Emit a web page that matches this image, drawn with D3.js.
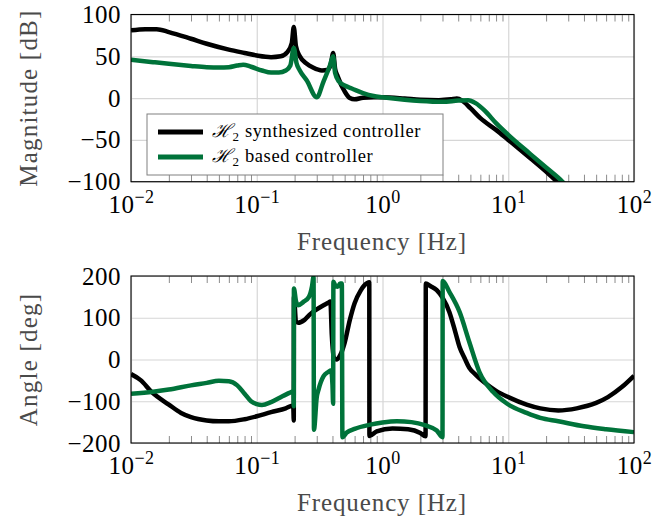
<!DOCTYPE html>
<html>
<head>
<meta charset="utf-8">
<script src="https://cdn.jsdelivr.net/npm/d3@7"></script>
<style>
  body { margin: 0; background: #fff; }
  svg { display: block; }
</style>
</head>
<body>
<svg width="666" height="521"></svg>
<script>
// [frequency Hz, value]
var magSynth = [
  [0.01, 81], [0.013, 82.5], [0.016, 82.5], [0.02, 79], [0.03, 71], [0.04, 65], [0.06, 58],
  [0.08, 54], [0.1, 51], [0.13, 49], [0.155, 50], [0.175, 55], [0.19, 66], [0.197, 85],
  [0.205, 62], [0.22, 50], [0.25, 41], [0.28, 36.5], [0.33, 33], [0.37, 34], [0.39, 42],
  [0.405, 54], [0.42, 35], [0.44, 26], [0.5, 8], [0.55, 0], [0.6, -1.5], [0.7, 0.5],
  [0.85, 1], [1, 1], [1.5, -0.5], [2, -2], [2.8, -2.5], [3.5, -1.5], [3.9, -0.5], [4.3, -3],
  [5, -12], [6, -24], [8, -38], [10, -50], [15, -72], [20, -88], [24.4, -100], [27, -107]
];
var magBased = [
  [0.01, 46], [0.015, 43], [0.02, 41], [0.03, 38.5], [0.04, 37], [0.05, 36.5], [0.06, 37],
  [0.07, 39], [0.078, 40], [0.09, 37.5], [0.11, 33], [0.13, 30.5], [0.15, 30.5], [0.17, 33],
  [0.185, 39], [0.197, 60], [0.207, 42], [0.22, 33], [0.25, 21], [0.3, 1], [0.34, 20],
  [0.38, 38], [0.405, 50], [0.42, 30], [0.45, 20], [0.5, 15], [0.57, 11.5], [0.7, 6],
  [0.85, 2.5], [1, 1], [1.5, -2], [2, -3.5], [3, -4.5], [4, -3], [4.8, -2.5], [5.5, -6],
  [6.5, -15], [8, -30], [10, -44], [15, -67], [20, -83], [27, -100], [29, -105]
];
var phSynth = [
  [0.01, -35], [0.012, -50], [0.0145, -77], [0.02, -108], [0.025, -128], [0.03, -138],
  [0.04, -146], [0.05, -148], [0.06, -148], [0.08, -143], [0.1, -136], [0.13, -126],
  [0.17, -117], [0.195, -110], [0.197, -146], [0.1975, 150], [0.205, 92], [0.213, 88],
  [0.24, 95], [0.265, 108], [0.3, 120], [0.34, 130], [0.37, 136], [0.385, 139], [0.395, 60],
  [0.41, 5], [0.43, 0], [0.46, 10], [0.5, 40], [0.55, 95], [0.6, 135], [0.67, 165],
  [0.72, 178], [0.785, 185], [0.787, -183], [0.9, -172], [1.2, -165], [1.6, -167],
  [2, -176], [2.2, -184], [2.21, 182], [2.4, 176], [2.7, 166], [3, 148], [3.4, 114],
  [3.8, 65], [4.1, 30], [4.5, 3], [4.9, -20], [5.5, -36], [6.4, -54], [8, -75], [10, -90],
  [14, -108], [18, -117], [25, -122], [35, -117], [50, -104], [62, -90], [80, -66], [100, -39]
];
var phBased = [
  [0.01, -82], [0.015, -77], [0.02, -72], [0.03, -62], [0.04, -56], [0.05, -51], [0.06, -52],
  [0.07, -62], [0.08, -82], [0.09, -100], [0.1, -107], [0.11, -109], [0.13, -102],
  [0.16, -88], [0.19, -77], [0.196, -75], [0.197, -112], [0.1975, 170], [0.205, 140],
  [0.213, 130], [0.235, 138], [0.26, 150], [0.275, 175], [0.283, 198], [0.285, -168],
  [0.3, -90], [0.31, -72], [0.34, -40], [0.37, -30], [0.39, -26], [0.4, -60], [0.405, -106],
  [0.407, 186], [0.42, 178], [0.44, 174], [0.46, 182], [0.475, 182], [0.48, -186],
  [0.52, -175], [0.6, -166], [0.8, -156], [1, -151], [1.3, -148], [1.7, -150], [2.2, -158],
  [2.7, -170], [3, -186], [3.01, 188], [3.4, 162], [4.1, 114], [4.9, 42], [5.9, -30],
  [7.6, -78], [9.8, -106], [14, -128], [18, -140], [25, -148], [40, -160], [60, -167], [100, -174]
];

var seriesNames = ["\u210B", " synthesized controller", " based controller"];
var seriesColors = ["#000000", "#00733a"];
var decades = [0.01, 0.1, 1, 10, 100];
var decadeExp = ["\u22122", "\u22121", "0", "1", "2"];
var magTicks = [100, 50, 0, -50, -100];
var phTicks = [200, 100, 0, -100, -200];

var font = "'Liberation Serif', 'DejaVu Serif', serif";
var svg = d3.select("svg");

var x = d3.scaleLog().domain([0.01, 100]).range([131, 634]);
var minor = [];
decades.slice(0, 4).forEach(function (d) {
  for (var k = 2; k <= 9; k++) minor.push(d * k);
});

function panel(top, bottom, yDomain, yTicks, yLabel, series, id) {
  var y = d3.scaleLinear().domain(yDomain).range([bottom, top]);
  var h = bottom - top;
  var g = svg.append("g");

  // grid
  g.append("g")
    .attr("transform", "translate(0," + bottom + ")")
    .call(d3.axisBottom(x).tickValues(decades).tickSize(-h).tickFormat(""))
    .call(function (s) { s.select(".domain").remove(); })
    .selectAll("line").attr("stroke", "#d6d6d6").attr("stroke-width", 1.2);
  g.append("g")
    .attr("transform", "translate(131,0)")
    .call(d3.axisLeft(y).tickValues(yTicks).tickSize(-503).tickFormat(""))
    .call(function (s) { s.select(".domain").remove(); })
    .selectAll("line").attr("stroke", "#d6d6d6").attr("stroke-width", 1.2);

  // minor ticks, top and bottom
  g.append("g")
    .attr("transform", "translate(0," + bottom + ")")
    .call(d3.axisBottom(x).tickValues(minor).tickSize(-7).tickFormat(""))
    .call(function (s) { s.select(".domain").remove(); })
    .selectAll("line").attr("stroke", "#8c8c8c");
  g.append("g")
    .attr("transform", "translate(0," + top + ")")
    .call(d3.axisTop(x).tickValues(minor).tickSize(-7).tickFormat(""))
    .call(function (s) { s.select(".domain").remove(); })
    .selectAll("line").attr("stroke", "#8c8c8c");

  // curves
  svg.append("clipPath").attr("id", id)
    .append("rect").attr("x", 131).attr("y", top).attr("width", 503).attr("height", h);
  var line = d3.line()
    .x(function (d) { return x(d[0]); })
    .y(function (d) { return y(d[1]); })
    .curve(d3.curveMonotoneX);
  series.forEach(function (s, i) {
    g.append("path")
      .datum(s)
      .attr("clip-path", "url(#" + id + ")")
      .attr("fill", "none")
      .attr("stroke", seriesColors[i])
      .attr("stroke-width", 4.5)
      .attr("stroke-linejoin", "round")
      .attr("d", line);
  });

  // frame
  g.append("rect")
    .attr("x", 131).attr("y", top).attr("width", 503).attr("height", h)
    .attr("fill", "none").attr("stroke", "#000").attr("stroke-width", 1.1);

  // x tick labels
  var xl = g.append("g")
    .attr("transform", "translate(0," + bottom + ")")
    .call(d3.axisBottom(x).tickValues(decades).tickSize(0));
  xl.select(".domain").remove();
  xl.selectAll("text").each(function (d, i) {
    var t = d3.select(this);
    t.text(null).attr("dy", null).attr("y", 31)
      .attr("font-family", font).attr("font-size", 25).attr("fill", "#000")
      .attr("letter-spacing", 0.5);
    t.append("tspan").text("10");
    t.append("tspan").attr("font-size", 18).attr("dy", -10).text(decadeExp[i]);
  });

  // y tick labels
  var yl = g.append("g")
    .attr("transform", "translate(131,0)")
    .call(d3.axisLeft(y).tickValues(yTicks).tickSize(0).tickPadding(10));
  yl.select(".domain").remove();
  yl.selectAll("text").attr("font-family", font).attr("font-size", 25)
    .attr("fill", "#000").attr("letter-spacing", 0.5);

  // axis titles
  g.append("text")
    .attr("x", 382).attr("y", bottom + 68)
    .attr("text-anchor", "middle")
    .attr("font-family", font).attr("font-size", 25).attr("fill", "#4a4a4a")
    .attr("letter-spacing", 0.9)
    .text("Frequency [Hz]");
  g.append("text")
    .attr("transform", "translate(37," + (top + h / 2) + ") rotate(-90)")
    .attr("text-anchor", "middle")
    .attr("font-family", font).attr("font-size", 25).attr("fill", "#4a4a4a")
    .attr("letter-spacing", 1.2)
    .text(yLabel);
  return g;
}

panel(14.5, 181.7, [-100, 100], magTicks, "Magnitude [dB]", [magSynth, magBased], "clipMag");
panel(276, 443, [-200, 200], phTicks, "Angle [deg]", [phSynth, phBased], "clipPh");

// legend
var lg = svg.append("g").attr("transform", "translate(147,114)");
lg.append("rect").attr("width", 296).attr("height", 61)
  .attr("fill", "#fff").attr("stroke", "#808080").attr("stroke-width", 1);
[seriesNames[1], seriesNames[2]].forEach(function (name, i) {
  var yy = 18 + i * 25;
  lg.append("line").attr("x1", 11).attr("x2", 56).attr("y1", yy).attr("y2", yy)
    .attr("stroke", seriesColors[i]).attr("stroke-width", 5);
  var t = lg.append("text").attr("x", 65).attr("y", yy + 5)
    .attr("font-family", font).attr("font-size", 18.5).attr("fill", "#000")
    .attr("letter-spacing", 0.6);
  t.append("tspan").attr("font-style", "italic").text(seriesNames[0]);
  t.append("tspan").attr("font-size", 13).attr("dy", 4).text("2");
  t.append("tspan").attr("dy", -4).text(name);
});
</script>
</body>
</html>
